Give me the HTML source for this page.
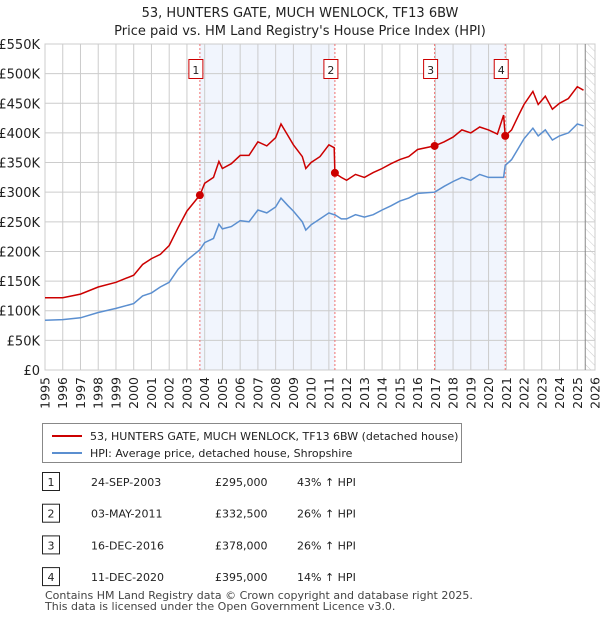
<!DOCTYPE html>
<html><head><meta charset="utf-8"><style>
body{margin:0;background:#fff;font-family:"Liberation Sans","DejaVu Sans",sans-serif;}
svg text{font-family:"DejaVu Sans","Liberation Sans",sans-serif;}
</style></head><body>
<svg id="c" width="600" height="620" xmlns="http://www.w3.org/2000/svg">
<defs><pattern id="hatch" width="6" height="6" patternUnits="userSpaceOnUse" patternTransform="rotate(-45)"><line x1="0" y1="0" x2="0" y2="6" stroke="#ccc" stroke-width="1"/></pattern></defs>
<text x="300" y="17" text-anchor="middle" font-size="13" fill="#222">53, HUNTERS GATE, MUCH WENLOCK, TF13 6BW</text>
<text x="300" y="35" text-anchor="middle" font-size="13" fill="#222">Price paid vs. HM Land Registry's House Price Index (HPI)</text>
<g id="plot"></g>
<g>
<rect x="42.5" y="423.5" width="419" height="39" fill="#fff" stroke="#888"/>
<line x1="52" y1="436" x2="82" y2="436" stroke="#cc0000" stroke-width="2"/>
<text x="90" y="440" font-size="11" fill="#222">53, HUNTERS GATE, MUCH WENLOCK, TF13 6BW (detached house)</text>
<line x1="52" y1="453" x2="82" y2="453" stroke="#5b8fd0" stroke-width="2"/>
<text x="90" y="457" font-size="11" fill="#222">HPI: Average price, detached house, Shropshire</text>
</g>
<g id="tbl" font-size="11" fill="#222"></g>
<text x="45" y="599" font-size="11" fill="#444">Contains HM Land Registry data © Crown copyright and database right 2025.</text>
<text x="45" y="610" font-size="11" fill="#444">This data is licensed under the Open Government Licence v3.0.</text>
</svg>
<script>
const dates=[1995,1996,1997,1998,1999,2000,2000.5,2001,2001.5,2002,2002.5,2003,2003.73,2004,2004.5,2004.8,2005,2005.5,2006,2006.5,2007,2007.5,2008,2008.3,2008.7,2009,2009.5,2009.7,2010,2010.5,2011,2011.3,2011.34,2011.7,2012,2012.5,2013,2013.5,2014,2014.5,2015,2015.5,2016,2016.96,2017.5,2018,2018.5,2019,2019.5,2020,2020.5,2020.85,2020.94,2021.3,2021.7,2022,2022.5,2022.8,2023.2,2023.6,2024,2024.5,2025,2025.35];
const hpiValues=[84,85,88,97,104,112,125,130,140,148,170,185,203,215,222,246,238,242,252,250,270,265,275,290,277,268,250,236,245,255,265,262,262,255,255,262,258,262,270,277,285,290,298,300,310,318,325,320,330,325,325,325,345,355,375,390,408,395,405,388,395,400,415,412];
const priceValues=[122,122,128,140,148,160,178,188,195,210,240,268,295,315,325,352,340,348,362,362,385,378,392,415,395,380,360,340,350,360,380,375,332,325,320,330,325,333,340,348,355,360,372,378,385,393,405,400,410,405,398,430,395,405,430,448,470,448,462,440,450,458,478,472];
const saleDates=[2003.73,2011.34,2016.96,2020.94];
const salePrices=[295,332.5,378,395];
const saleLabels=["1","2","3","4"];
const saleDateText=["24-SEP-2003","03-MAY-2011","16-DEC-2016","11-DEC-2020"];
const salePriceText=["£295,000","£332,500","£378,000","£395,000"];
const saleHpiText=["43% ↑ HPI","26% ↑ HPI","26% ↑ HPI","14% ↑ HPI"];
const yTicks=[0,50,100,150,200,250,300,350,400,450,500,550];
const yTickLabels=["£0","£50K","£100K","£150K","£200K","£250K","£300K","£350K","£400K","£450K","£500K","£550K"];
const xTicks=[1995,1996,1997,1998,1999,2000,2001,2002,2003,2004,2005,2006,2007,2008,2009,2010,2011,2012,2013,2014,2015,2016,2017,2018,2019,2020,2021,2022,2023,2024,2025,2026];

const X0=45,X1=595,Y0=370,Y1=44;
const xs=d=>X0+(d-1995)/(2026-1995)*(X1-X0);
const ys=v=>Y0-v/550*(Y0-Y1);
const NS="http://www.w3.org/2000/svg";
const plot=document.getElementById('plot');
function mk(tag,attrs,parent){const e=document.createElementNS(NS,tag);for(const k in attrs)e.setAttribute(k,attrs[k]);(parent||plot).appendChild(e);return e;}
for(let i=0;i<4;i+=2){const r=mk('rect',{x:xs(saleDates[i]),y:Y1,width:xs(saleDates[i+1])-xs(saleDates[i]),height:Y0-Y1,fill:'#eef3fc',opacity:0.8});

}
const hx=xs(2025.45);
const h=mk('rect',{x:hx,y:Y1,width:X1-hx,height:Y0-Y1,fill:'url(#hatch)'});


yTicks.forEach((t,i)=>{const l=mk('line',{x1:X0,x2:X1,y1:ys(t),y2:ys(t),stroke:'#ccc'});


const tx=mk('text',{x:40,y:ys(t)+5,'text-anchor':'end','font-size':13,fill:'#222'});tx.textContent=yTickLabels[i];

});
xTicks.forEach(t=>{const l=mk('line',{x1:xs(t),x2:xs(t),y1:Y1,y2:Y0,stroke:'#ccc'});


const px=xs(t)+4.5,py=377;
const tx=mk('text',{x:px,y:py,'text-anchor':'end','font-size':12.5,fill:'#222',transform:'rotate(-90 '+px+' '+py+')'});tx.textContent=t;

});
mk('rect',{x:X0,y:Y1,width:X1-X0,height:Y0-Y1,fill:'none',stroke:'#ccc'});
const gl=mk('line',{x1:hx,x2:hx,y1:Y1,y2:Y0,stroke:'#888'});


saleDates.forEach((d,i)=>{const l=mk('line',{x1:xs(d),x2:xs(d),y1:Y1,y2:Y0,stroke:'#f07070','stroke-dasharray':'2,2'});


const b=mk('rect',{x:xs(d)-11,y:59.5,width:14,height:19,fill:'#fff',stroke:'#cc0000'});


const t=mk('text',{x:xs(d)-4,y:74,'text-anchor':'middle','font-size':11,fill:'#222'});t.textContent=saleLabels[i];

});
function path(vals){return vals.map((v,i)=>(i?'L':'M')+xs(dates[i]).toFixed(1)+','+ys(v).toFixed(1)).join('');}
const hp=mk('path',{d:path(hpiValues),fill:'none',stroke:'#5b8fd0','stroke-width':1.5});


const pp=mk('path',{d:path(priceValues),fill:'none',stroke:'#cc0000','stroke-width':1.5});


saleDates.forEach((d,i)=>{const c=mk('circle',{cx:xs(d),cy:ys(salePrices[i]),r:4,fill:'#cc0000'});

});
const tbl=document.getElementById('tbl');
saleLabels.forEach((s,i)=>{const y=485+i*31.7;
const b=mk('rect',{x:42.5,y:y-12.5,width:17,height:18,fill:'#fff',stroke:'#222'},tbl);


const cells=[[51,s,'middle'],[91,saleDateText[i],'start'],[215,salePriceText[i],'start'],[297,saleHpiText[i],'start']];
cells.forEach(c=>{const t=mk('text',{x:c[0],y:y+1,'text-anchor':c[2]},tbl);t.textContent=c[1];

});});
</script>
</body></html>
